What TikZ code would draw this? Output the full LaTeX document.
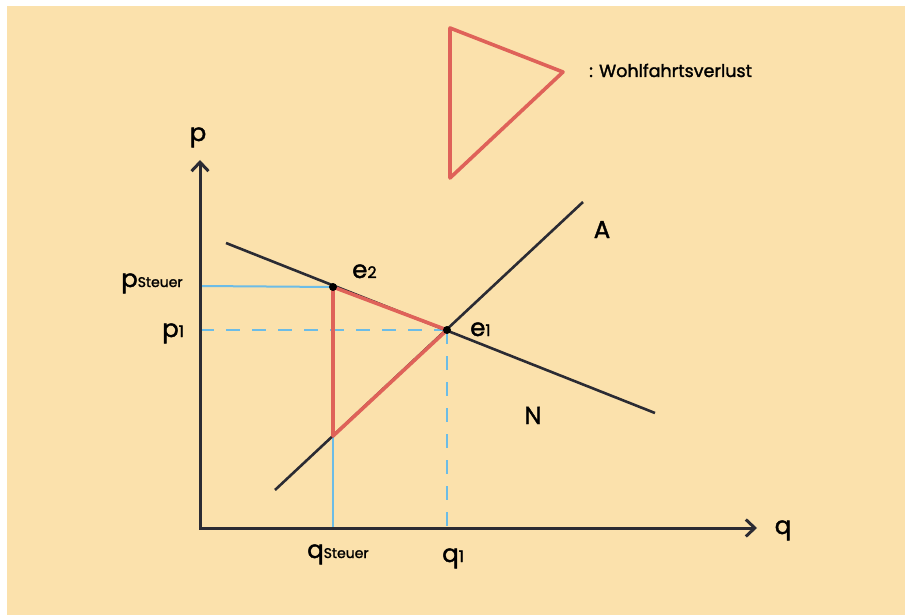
\documentclass[tikz,border=0pt]{standalone}
\usepackage{fontspec}
\setmainfont{Poppins}[FakeBold=1.6]
\usetikzlibrary{arrows.meta}
\definecolor{bg}{HTML}{FBE1AC}
\definecolor{ink}{HTML}{2B2B33}
\definecolor{redl}{HTML}{DF6259}
\definecolor{bluel}{HTML}{6CBCE6}
\newcommand{\smallsub}[1]{{\fontsize{14}{12}\selectfont #1}}
\newcommand{\numsub}[1]{{\fontsize{16}{12}\selectfont #1}}
\tikzset{
  axis/.style={draw=ink,line width=3pt,-{Straight Barb[length=9pt,width=17pt,line width=3pt]}},
  curve/.style={draw=ink,line width=2.6pt},
  loss/.style={draw=redl,line width=3.6pt,line join=round,line cap=round},
  guide/.style={draw=bluel,line width=2pt},
  guidedash/.style={guide,dash pattern=on 14pt off 12pt},
  dot/.style={circle,fill=black,inner sep=0pt,minimum size=8pt},
  lbl/.style={font=\fontsize{24.5}{24}\selectfont,text=black,inner sep=0pt,anchor=base}
}
\begin{document}
\begin{tikzpicture}[x=1pt,y=-1pt]
\useasboundingbox (0,0) rectangle (905,615);
\fill[bg] (7,6) rectangle (905,615);
% coordinates
\coordinate (O) at (200,528);
\coordinate (ytop) at (200,160);
\coordinate (xend) at (757,528);
\coordinate (Ns) at (226,243);
\coordinate (Ne) at (655,413);
\coordinate (As) at (275,490);
\coordinate (Ae) at (583,202);
\coordinate (pS) at (200,286);
\coordinate (p1) at (200,330);
\coordinate (qS) at (333,528);
\coordinate (q1) at (447,528);
\coordinate (low) at (333,436);
% guides
\draw[guide] (pS) -- (333,287);
\draw[guide] (low) -- (qS);
\draw[guidedash] (p1) -- (447,330);
\draw[guidedash] (447,330) -- (q1);
% curves
\draw[curve] (Ns) -- (Ne);
\draw[curve] (As) -- (Ae);
% loss triangle
\draw[loss] (333,287) -- (447,330) -- (low) -- cycle;
\node[dot] (e2) at (333,287) {};
\node[dot] (e1) at (447,330) {};
% axes
\draw[axis] (O) -- (ytop);
\draw[axis] (O) -- (xend);
\fill[ink] (198.5,526.5) rectangle (201.5,529.5);
% labels
\node[lbl] (lp) at (198,141) {p};
\node[lbl] (lq) at (783,534) {q};
\node[lbl] (lA) at (602,238) {A};
\node[lbl] (lN) at (533,424) {N};
\node[lbl,anchor=base west] (le2) at (352,278) {e\numsub{2}};
\node[lbl,anchor=base west] (le1) at (470,336) {e\numsub{1}};
\node[lbl,anchor=base west] (lpS) at (121,287) {p\smallsub{Steuer}};
\node[lbl,anchor=base west] (lp1) at (162,337) {p\numsub{1}};
\node[lbl,anchor=base west] (lqS) at (307,558) {q\smallsub{Steuer}};
\node[lbl,anchor=base west] (lq1) at (442,562) {q\numsub{1}};
% legend
\draw[loss] (450,28) -- (563,72) -- (450,178) -- cycle;
\node[lbl,anchor=base west,font=\fontsize{17.5}{17}\selectfont] (leg) at (589,77) {: Wohlfahrtsverlust};
\end{tikzpicture}
\end{document}
